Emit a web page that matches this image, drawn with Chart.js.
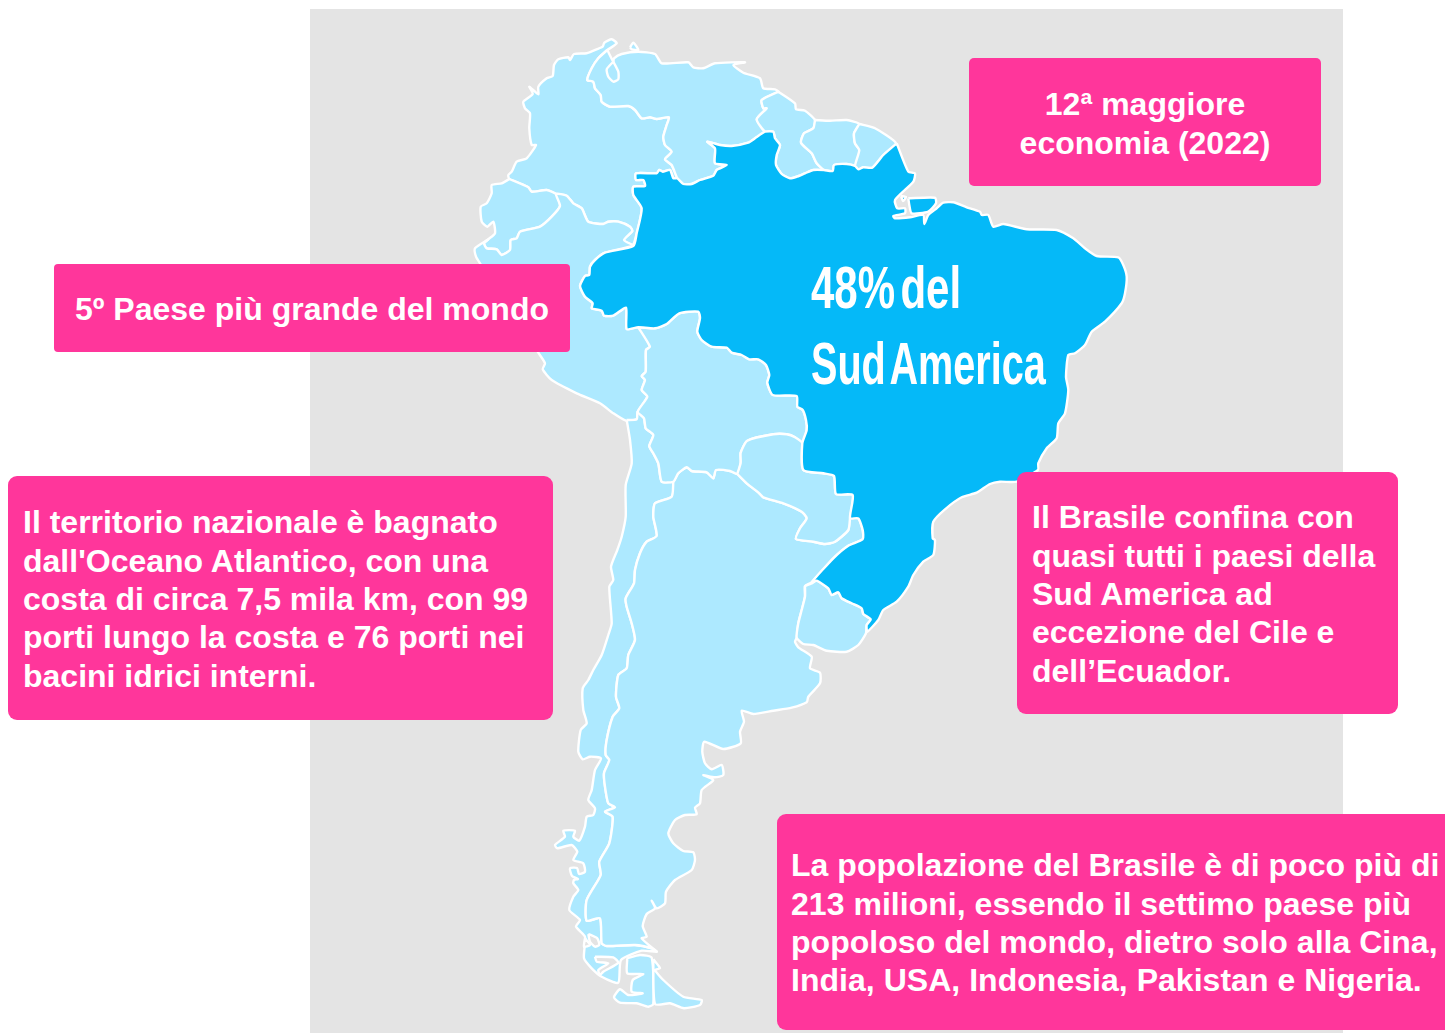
<!DOCTYPE html>
<html lang="it"><head><meta charset="utf-8">
<script src="https://cdn.jsdelivr.net/npm/chart.js@4/dist/chart.umd.min.js"></script>
<style>
html,body{margin:0;padding:0;background:#fff;width:1445px;height:1033px;overflow:hidden}
#wrap{position:relative;width:1445px;height:1033px;overflow:hidden}
#sea{position:absolute;left:310px;top:9px;width:1033px;height:1024px;background:#e4e4e4}
canvas{position:absolute;left:0;top:0}
.box{position:absolute;background:#ff369b;color:#fff;font:bold 32px/38.4px "Liberation Sans",Arial,sans-serif;box-sizing:border-box;white-space:nowrap}
.big{position:absolute;color:#fff;font:bold 60px/60px "Liberation Sans",Arial,sans-serif;transform-origin:0 0;white-space:nowrap;word-spacing:-9px}
</style></head><body>
<div id="wrap">
<div id="sea"></div>
<canvas id="c" width="1445" height="1033"></canvas>
<div class="big" style="left:811px;top:258px;transform:scaleX(.70)">48% del</div>
<div class="big" style="left:811px;top:334px;transform:scaleX(.66)">Sud America</div>
<div class="box" style="left:969px;top:58px;width:352px;height:128px;border-radius:5px;text-align:center;padding-top:27.2px">12ª maggiore<br>economia (2022)</div>
<div class="box" style="left:54px;top:264px;width:516px;height:88px;border-radius:4px;text-align:center;padding-top:26px">5º Paese più grande del mondo</div>
<div class="box" style="left:8px;top:476px;width:545px;height:244px;border-radius:9px;padding:27.2px 0 0 15px">Il territorio nazionale è bagnato<br>dall'Oceano Atlantico, con una<br>costa di circa 7,5 mila km, con 99<br>porti lungo la costa e 76 porti nei<br>bacini idrici interni.</div>
<div class="box" style="left:1017px;top:472px;width:381px;height:242px;border-radius:9px;padding:26.2px 0 0 15px">Il Brasile confina con<br>quasi tutti i paesi della<br>Sud America ad<br>eccezione del Cile e<br>dell’Ecuador.</div>
<div class="box" style="left:777px;top:814px;width:680px;height:216px;border-radius:9px;padding:32.2px 0 0 14px;letter-spacing:.03px">La popolazione del Brasile è di poco più di<br>213 milioni, essendo il settimo paese più<br>popoloso del mondo, dietro solo alla Cina,<br>India, USA, Indonesia, Pakistan e Nigeria.</div>
</div>
<script>
const colombia=[[607.3,50],[616.7,43.3],[611.7,39.3],[604.3,42.7],[602.7,46.7],[596.7,49.3],[586.7,53.3],[574,54],[570,60],[568.3,57.3],[558.3,59.3],[554,65],[552.7,76],[546.7,78.3],[538.3,86.7],[538.3,94.3],[529.3,86.7],[532.7,94],[523.3,101.7],[525,108.3],[530,113.3],[529.3,128.3],[531.7,145],[536,145],[526.7,158.3],[516.7,161.7],[511.7,171.7],[508.3,175],[509.3,179],[528.3,187.3],[531.7,191.7],[546.7,190],[556,194],[566.7,195.7],[573.3,203.3],[581.7,208.3],[588.3,221.7],[603.3,224],[608.3,221.7],[618.3,221.7],[630,226.7],[632.3,231],[624,240],[632.7,245],[636.7,233.3],[641.7,208.3],[633.3,195],[633.3,186.7],[645,186],[643.3,180],[636,180],[636,173.3],[656.7,173.3],[659.3,170],[662.7,171.7],[670,170],[673.3,178.3],[677.3,178.3],[671.7,165],[665,159.3],[671.7,151.7],[665,145],[663.3,136.7],[666.7,125],[669,117.3],[656.7,119],[650,117.3],[641.7,118.3],[635,110],[628.3,106],[610,106.7],[601.7,101.7],[600.7,95],[595,88.3],[593.3,81.7],[587.3,80],[591.7,68.3],[598.3,58.3]];
const venezuela=[[607.3,50],[613.3,61.7],[614,58.3],[621.7,54],[638.3,51.7],[655,54],[661.7,63.3],[688.3,62.3],[693.3,67.3],[703.3,68.3],[715,63.3],[745,62.3],[733.3,65],[743.3,72.7],[760,78.3],[763.3,88.3],[775,89.3],[778.3,91.7],[761.7,100],[763.3,108.3],[766.7,108.3],[756.7,119.3],[765,131.7],[755,138.3],[748.3,142.7],[731.7,146],[720,145],[707.3,141.7],[715,148.3],[715,163.3],[726.7,165],[716.7,170],[713.3,175.7],[700,180],[691.7,184],[683.3,184],[677.3,178.3],[671.7,165],[665,159.3],[671.7,151.7],[665,145],[663.3,136.7],[666.7,125],[669,117.3],[656.7,119],[650,117.3],[641.7,118.3],[635,110],[628.3,106],[610,106.7],[601.7,101.7],[600.7,95],[595,88.3],[593.3,81.7],[587.3,80],[591.7,68.3],[598.3,58.3]];
const maracaibo=[[613.3,61.7],[606.7,69.3],[608.3,76.7],[613.3,81.7],[618.3,79.3],[618.3,71.7]];
const caribbeanIsle=[[630,47.3],[633.3,42.7],[636.7,46.7],[638.3,50],[631.7,49.3]];
const guyana=[[778.3,91.7],[795,103.3],[796,109.3],[805,110.7],[815,120],[813.3,128.3],[804,133.3],[801,142.7],[811.7,153.3],[816.7,163.3],[824,170],[813.3,170],[805,173.3],[796.7,176.7],[790,178.3],[781.7,174],[776,165],[776.7,155],[780,145],[775,138.3],[773.3,131.7],[765,131.7],[756.7,119.3],[766.7,108.3],[763.3,108.3],[761.7,100]];
const suriname=[[815,120],[830,120.7],[846.7,120],[859.3,124],[854,133.3],[855,143.3],[859.3,150],[856.7,165],[846.7,164],[834,165],[832.7,171],[824,170],[816.7,163.3],[811.7,153.3],[801,142.7],[804,133.3],[813.3,128.3]];
const frenchGuiana=[[859.3,124],[875,128.3],[896,143.3],[883.3,155],[872.3,167.7],[863.3,167.3],[858.3,169.3],[855,166],[859.3,150],[855,143.3],[854,133.3]];
const ecuador=[[509.3,179],[528.3,187.3],[531.7,191.7],[546.7,190],[556,194],[560,206],[551.7,216.7],[540,226.7],[520,231.7],[516.7,238.3],[510.7,240],[510,250],[501.7,255],[496.7,249.3],[486.7,248.3],[484,243.3],[488.3,239.3],[495,233.3],[493.3,221.7],[487.3,226.7],[481.7,221.7],[480.7,206.7],[486.7,203.3],[491.7,193.3],[491.7,185],[501.7,183.3]];
const peru=[[488.3,239.3],[475,248.3],[476,256.7],[480,263.3],[538.3,352.7],[545,363.3],[542.7,369.3],[551.7,380],[576.7,393.3],[600,403.3],[613.3,413.3],[626,420.7],[636.7,419.3],[637.7,411.7],[647.3,396.7],[641.7,390],[645,380],[641.7,376],[645.7,371.7],[646,350],[650,346.7],[638.3,327.3],[626.7,329],[626,307.7],[613.3,315.7],[604,315.7],[601.7,310.7],[591.7,308.3],[592.7,303.3],[585,296.7],[580,286],[585,276],[589.3,275],[590,266.7],[595,260],[605,252.7],[633.3,246],[632.7,245],[624,240],[632.3,231],[630,226.7],[618.3,221.7],[608.3,221.7],[603.3,224],[588.3,221.7],[581.7,208.3],[573.3,203.3],[566.7,195.7],[556,194],[560,206],[551.7,216.7],[540,226.7],[520,231.7],[516.7,238.3],[510.7,240],[510,250],[501.7,255],[496.7,249.3],[486.7,248.3],[484,243.3]];
const bolivia=[[638.3,327.3],[655,328.3],[666.7,324],[679.3,313.3],[698.3,311.7],[700,318.3],[697.3,331.7],[701.7,340],[711.7,346.7],[726.7,347.7],[731.7,352.7],[741.7,355],[749.3,359.3],[758.3,359.3],[766,365],[769.3,375],[767.3,382.7],[772.7,395],[796.7,396],[797.3,406.7],[802.7,410],[806,420],[806.7,430],[802.3,443.3],[795,437.3],[786.7,434.3],[773.3,434.3],[747.3,440.7],[740.7,452.7],[740.7,462.7],[737.3,474],[730,471],[716,470],[713.3,478.3],[706.7,472.3],[691.7,471],[686.7,467.3],[678.3,473.3],[673.3,481.7],[661.7,481.7],[658.3,463.3],[653.3,453.3],[649.3,446],[653.3,435],[645.7,428.3],[644,418.3],[637.7,411.7],[647.3,396.7],[641.7,390],[645,380],[641.7,376],[645.7,371.7],[646,350],[650,346.7]];
const paraguay=[[737.3,474],[740.7,462.7],[740.7,452.7],[747.3,440.7],[773.3,434.3],[786.7,434.3],[795,437.3],[802.3,443.3],[803.3,470],[823.3,473.3],[834,476],[836,494],[852.7,495],[850,518.3],[848.3,530],[835,541.7],[825,544],[813.3,541.7],[796,539],[800,528.3],[806.7,518.3],[801.7,511.7],[783.3,503.3],[763.3,497.3],[759.3,493.3],[746.7,483.3]];
const uruguay=[[805,586],[811.7,583.3],[816.7,580.7],[828.3,588.3],[831.7,595],[838.3,592.3],[841.7,598.3],[851.7,603.3],[861.7,608.3],[863.3,614],[870.7,619.3],[866.7,625],[866,633.3],[858.3,645],[846.7,651.7],[826.7,650.7],[813.3,645],[803.3,644],[796.7,637.7],[798.3,623.3],[801.7,610],[805,596.7]];
const argentina=[[673.3,481.7],[678.3,473.3],[686.7,467.3],[691.7,471],[706.7,472.3],[713.3,478.3],[716,470],[730,471],[737.3,474],[746.7,483.3],[759.3,493.3],[763.3,497.3],[783.3,503.3],[801.7,511.7],[806.7,518.3],[800,528.3],[796,539],[813.3,541.7],[825,544],[835,541.7],[848.3,530],[850,518.3],[858.3,518.3],[862.7,530],[862.7,539.3],[848.3,545.7],[833.3,558.3],[811.7,582.3],[805,586],[805,596.7],[801.7,610],[798.3,623.3],[796.7,637.7],[795,641.7],[798.3,647.3],[811.7,656.7],[810,668.3],[820,672.7],[820,683.3],[808.3,696.7],[806.7,702.3],[791.7,707.7],[773.3,710.7],[753.3,714],[741.7,710.7],[744,721.7],[740,731.7],[740.7,743.3],[723.3,749],[704.3,741.7],[702.3,751.7],[705,763.3],[711.7,769.3],[721.7,765],[723.3,775],[715,777.3],[703.3,775],[713.3,780],[701.7,790],[700,803.3],[695,807.7],[696.7,814.3],[685,815],[675,820],[668.3,833.3],[673.3,843.3],[683.3,851],[693.3,852.3],[695,860],[691.7,870],[675,880],[666,891.7],[665,903.3],[656.7,908.3],[651.7,900.7],[655,908.3],[646.7,914],[642.7,926],[646.7,936.7],[641.7,938.3],[656.7,951.7],[651.7,948.3],[635,945],[606.7,946],[601.7,943.3],[600,918.3],[586.7,920.7],[586.7,900],[600.7,875],[599.3,861.7],[609.3,843.3],[612.7,816.7],[605,811.7],[615,807.3],[608.3,803.3],[605,786.7],[604,773.3],[609.3,760],[605.7,755],[606.7,740],[612.7,716.7],[619.3,708.3],[616,696.7],[618.3,675],[626.7,668.3],[628.3,655],[635,640],[631.7,623.3],[626.7,606.7],[625.7,598.3],[634,583.3],[635,570],[640,553.3],[646.7,541.7],[656.7,536],[653.3,516.7],[655,503.3],[671.7,496.7]];
const chile=[[626.7,420],[636.7,419.3],[637.7,411.7],[644,418.3],[645.7,428.3],[653.3,435],[649.3,446],[653.3,453.3],[658.3,463.3],[661.7,481.7],[673.3,481.7],[671.7,496.7],[655,503.3],[653.3,516.7],[656.7,536],[646.7,541.7],[640,553.3],[635,570],[634,583.3],[625.7,598.3],[626.7,606.7],[631.7,623.3],[635,640],[628.3,655],[626.7,668.3],[618.3,675],[616,696.7],[619.3,708.3],[612.7,716.7],[606.7,740],[605.7,755],[609.3,760],[604,773.3],[605,786.7],[608.3,803.3],[615,807.3],[605,811.7],[612.7,816.7],[609.3,843.3],[599.3,861.7],[600.7,875],[586.7,900],[586.7,920.7],[600,918.3],[601.7,943.3],[606.7,946],[635,945],[651.7,948.3],[656.7,951.7],[641.7,950.7],[621,960],[618.3,982.7],[601.7,976.7],[591.7,968.3],[584,958.3],[585,936.7],[576,926.7],[580,920],[569.3,910],[573.3,896.7],[578.3,890],[573.3,883.3],[574,880],[578,879],[572,876],[570,868.3],[577,868],[579,874],[585,871.7],[583.3,863.3],[573.3,860],[577.3,851.7],[571.7,845],[557.3,848.3],[555,845],[565,836.7],[563.3,830.7],[575,830.7],[573.3,836.7],[579.3,840.7],[585,826.7],[586.7,816.7],[593.3,815],[595,808.3],[588.3,800],[591.7,790],[595,770],[601,758.3],[590,756.7],[582.7,759.3],[578.3,751.7],[580.7,730],[586.7,723.3],[583.3,710],[582.7,688.3],[588.3,680],[593.3,670],[601.7,655],[608.3,635],[611.7,623.3],[609.3,586.7],[613.3,580],[611,566.7],[617.3,550],[621.7,536.7],[625.7,516.7],[625.7,485],[631.7,463.3],[630,440]];
const magellanStrait=[[595,956.7],[613.3,957.3],[618.3,962.7],[603.3,971.7],[600,975],[598.3,970],[608.3,963.3],[596.7,961.7]];
const southFjordA=[[588.3,934],[597.3,938.3],[599.3,945],[595,946.7],[590,941.7]];
const southFjordB=[[585,938.3],[590,945],[584,946.7]];
const fuegoChile=[[627.3,958.3],[640,955],[651.7,957.7],[653.3,1004],[648.3,1006.7],[636.7,1003.3],[620,1002.7],[614,997.3],[620,989.3],[628.3,995],[642.7,993.3],[631.7,991.7],[632.7,980],[643.3,974],[627.3,973.3]];
const fuegoArgentina=[[653.3,959.3],[660,968.3],[655,970],[663.3,980],[683.3,996.7],[701.7,1000],[700,1005],[684,1008.3],[670,1003.3],[655,1004]];
const brazil=[[896.7,143.3],[908.3,171.7],[915,173.3],[913.3,181.7],[895,200],[897.3,208.3],[905,208.3],[905,213.3],[893.3,216],[895,218.3],[910,217.3],[923.3,215],[924.3,224],[928.3,215],[936.7,208.3],[943.3,202.7],[953.3,202.3],[966.7,207.3],[980,211.7],[981.7,215],[988.3,215],[993.3,226.7],[1003.3,224],[1026.7,229.3],[1056.7,230],[1073.3,238.3],[1085,248.3],[1096.7,256],[1118.3,257.3],[1123.3,265],[1126.7,276.7],[1125,293.3],[1121.7,303.3],[1105,321.7],[1091.7,331.7],[1085,345],[1075,353.3],[1068.3,355],[1066,376.7],[1068.3,390],[1065,413.3],[1058.3,423.3],[1056.7,438.3],[1046.7,448.3],[1038.3,463.3],[1038,470],[1016.7,481.7],[1000,481.7],[990,484],[976.7,492.7],[961.7,497.3],[945,509.3],[933.3,521.7],[932.7,538.3],[935,540],[933.3,555],[923.3,561.7],[913.3,575],[908.3,586.7],[896.7,601.7],[883.3,610],[878.3,620],[867.3,631.7],[866.7,625],[870.7,619.3],[863.3,614],[861.7,608.3],[851.7,603.3],[841.7,598.3],[838.3,592.3],[831.7,595],[828.3,588.3],[816.7,580.7],[811.7,582.3],[833.3,558.3],[848.3,545.7],[862.7,539.3],[862.7,530],[858.3,518.3],[850,518.3],[852.7,495],[836,494],[834,476],[823.3,473.3],[803.3,470],[802.3,443.3],[806.7,430],[806,420],[802.7,410],[797.3,406.7],[796.7,396],[772.7,395],[767.3,382.7],[769.3,375],[766,365],[758.3,359.3],[749.3,359.3],[741.7,355],[731.7,352.7],[726.7,347.7],[711.7,346.7],[701.7,340],[697.3,331.7],[700,318.3],[698.3,311.7],[679.3,313.3],[666.7,324],[655,328.3],[638.3,327.3],[626.7,329],[626,307.7],[613.3,315.7],[604,315.7],[601.7,310.7],[591.7,308.3],[592.7,303.3],[585,296.7],[580,286],[585,276],[589.3,275],[590,266.7],[595,260],[605,252.7],[633.3,246],[636.7,233.3],[641.7,208.3],[633.3,195],[633.3,186.7],[645,186],[643.3,180],[636,180],[636,173.3],[656.7,173.3],[659.3,170],[662.7,171.7],[670,170],[673.3,178.3],[677.3,178.3],[683.3,184],[691.7,184],[700,180],[713.3,175.7],[716.7,170],[726.7,165],[715,163.3],[715,148.3],[707.3,141.7],[720,145],[731.7,146],[748.3,142.7],[755,138.3],[765,131.7],[773.3,131.7],[775,138.3],[780,145],[776.7,155],[776,165],[781.7,174],[790,178.3],[796.7,176.7],[805,173.3],[813.3,170],[824,170],[832.7,171],[834,165],[846.7,164],[855,166],[858.3,169.3],[863.3,167.3],[872.3,167.7],[883.3,155]];
const marajo=[[908.3,198.3],[935,197.7],[936,203.3],[928.3,211.7],[911.7,213.3],[909.3,205]];
const amazonIslet=[[901,196],[906,197],[903,201]];

const LIGHT='#ade9ff', BRAZIL='#05b9f8', WATER='#e4e4e4';
const layers=[
  [colombia,LIGHT],[venezuela,LIGHT],[maracaibo,LIGHT],[caribbeanIsle,LIGHT],[guyana,LIGHT],[suriname,LIGHT],[frenchGuiana,LIGHT],
  [ecuador,LIGHT],[peru,LIGHT],[chile,LIGHT],[argentina,LIGHT],[bolivia,LIGHT],[paraguay,LIGHT],[uruguay,LIGHT],
  [magellanStrait,WATER],[southFjordA,WATER],[southFjordB,WATER],[fuegoChile,LIGHT],[fuegoArgentina,LIGHT],
  [brazil,BRAZIL],[marajo,BRAZIL],[amazonIslet,BRAZIL]
];
new Chart(document.getElementById('c'),{
  type:'scatter',
  data:{datasets:layers.map(([pts,color],i)=>({
    order:layers.length-i,
    data:pts.concat([pts[0]]).map(([x,y])=>({x,y})),
    showLine:true,fill:'shape',backgroundColor:color,borderColor:'#fff',borderWidth:2.4,
    borderJoinStyle:'round',tension:0.2,pointRadius:0,pointHoverRadius:0,clip:false
  }))},
  options:{responsive:false,animation:false,events:[],
    layout:{padding:0},
    plugins:{legend:{display:false},tooltip:{enabled:false},title:{display:false}},
    scales:{x:{type:'linear',display:false,min:0,max:1445},y:{type:'linear',display:false,min:0,max:1033,reverse:true}}
  }
});
</script>
</body></html>
